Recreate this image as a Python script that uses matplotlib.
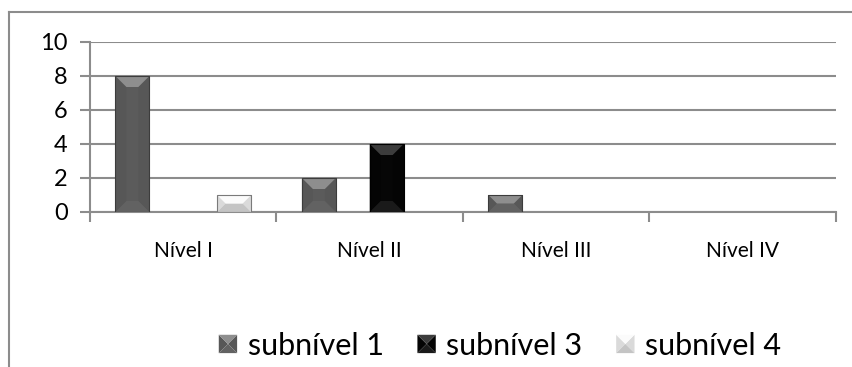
import numpy as np
import matplotlib.pyplot as plt
from matplotlib.patches import Polygon
from matplotlib.lines import Line2D
from matplotlib.legend_handler import HandlerBase

plt.rcParams['font.family'] = ['Lato', 'DejaVu Sans']

niveis = ['Nível I', 'Nível II', 'Nível III', 'Nível IV']
series = ['subnível 1', 'subnível 3', 'subnível 4']
# subnível 2 keeps its slot in each group but has no bars
slots = [0, 2, 3]
n_slots = 4
sub1 = [8, 2, 1, 0]
sub3 = [0, 4, 0, 0]
sub4 = [1, 0, 0, 0]
valores = [sub1, sub3, sub4]

# face, top bevel, side bevel, bottom bevel, edge
cores = [
    ('#5b5b5b', '#8e8e8e', '#575757', '#626262', '#3c3c3c'),
    ('#060606', '#3c3c3c', '#040404', '#1a1a1a', '#000000'),
    ('#ececec', '#fbfbfb', '#dadada', '#c4c4c4', '#7a7a7a'),
]

GRID = '#8c8c8c'
BEVEL_PX = 11


def bevel_polys(x0, y0, w, h, bx, by):
    """faces of a chamfered box: top, bottom, left, right"""
    x1, y1 = x0 + w, y0 + h
    by_ = min(by, h / 2)
    bx_ = min(bx * by_ / by, w / 2)
    top = [(x0, y1), (x1, y1), (x1 - bx_, y1 - by_), (x0 + bx_, y1 - by_)]
    bot = [(x0, y0), (x1, y0), (x1 - bx_, y0 + by_), (x0 + bx_, y0 + by_)]
    left = [(x0, y0), (x0, y1), (x0 + bx_, y1 - by_), (x0 + bx_, y0 + by_)]
    right = [(x1, y0), (x1, y1), (x1 - bx_, y1 - by_), (x1 - bx_, y0 + by_)]
    return top, bot, left, right


class HandlerBevel(HandlerBase):
    def __init__(self, cor):
        super().__init__()
        self.cor = cor

    def create_artists(self, legend, orig_handle, xdescent, ydescent,
                       width, height, fontsize, trans):
        face, topc, sidec, botc, edge = self.cor
        s = min(width, height)
        x0 = -xdescent + (width - s) / 2
        y0 = -ydescent + (height - s) / 2
        top, bot, left, right = bevel_polys(x0, y0, s, s, s / 2, s / 2)
        arts = []
        for pts, c in [(left, sidec), (right, sidec), (bot, botc), (top, topc)]:
            p = Polygon(pts, closed=True, facecolor=c, edgecolor='none',
                        transform=trans)
            arts.append(p)
        return arts


fig = plt.figure(figsize=(8.53, 3.67), dpi=100)
W, H = 853, 367
left_px, right_px, top_px, bot_px = 90, 836, 42, 212
ax = fig.add_axes([left_px / W, 1 - bot_px / H,
                   (right_px - left_px) / W, (bot_px - top_px) / H])

x = np.arange(len(niveis))
largura = 1 / (n_slots + 1.5)
ax.set_xlim(-0.5, len(niveis) - 0.5)
ax.set_ylim(0, 10)

# data units per pixel, for the bevel size
bx = BEVEL_PX * (len(niveis)) / (right_px - left_px)
by = BEVEL_PX * 10 / (bot_px - top_px)

handles = []
for vals, slot, cor, nome in zip(valores, slots, cores, series):
    pos = x + (slot - (n_slots - 1) / 2) * largura
    barras = ax.bar(pos, vals, largura, color=cor[0], edgecolor=cor[4],
                    linewidth=0.6, zorder=3, label=nome)
    handles.append(barras)
    for r in barras.patches:
        h = r.get_height()
        if h <= 0:
            continue
        top, bot, lft, rgt = bevel_polys(r.get_x(), r.get_y(), r.get_width(),
                                         h, bx, by)
        for pts, c in [(lft, cor[2]), (rgt, cor[2]), (bot, cor[3]), (top, cor[1])]:
            ax.add_patch(Polygon(pts, closed=True, facecolor=c,
                                 edgecolor='none', zorder=4))
        ax.add_patch(plt.Rectangle((r.get_x(), r.get_y()), r.get_width(), h,
                                   fill=False, edgecolor=cor[4], linewidth=0.8,
                                   zorder=5))

# axes styling
ax.set_yticks(np.arange(0, 11, 2))
ax.grid(axis='y', color=GRID, linewidth=1.5, zorder=0)
for s in ['top', 'right']:
    ax.spines[s].set_visible(False)
for s in ['left', 'bottom']:
    ax.spines[s].set_color(GRID)
    ax.spines[s].set_linewidth(1.5)
ax.set_xticks(np.arange(len(niveis) + 1) - 0.5)
ax.set_xticklabels([])
ax.set_xticks(x, minor=True)
ax.set_xticklabels(niveis, minor=True, fontsize=15)
ax.tick_params(axis='x', which='major', length=7, width=1.5, color=GRID)
ax.tick_params(axis='x', which='minor', length=0, pad=21)
ax.tick_params(axis='y', length=7, width=1.5, color=GRID, labelsize=17, pad=9)

leg = fig.legend(handles, series, loc='center', bbox_to_anchor=(500 / W, 0.058),
                 ncol=3, frameon=False, fontsize=22, handlelength=0.6,
                 handleheight=0.6, handletextpad=0.35, columnspacing=1.1,
                 handler_map={h: HandlerBevel(c) for h, c in zip(handles, cores)})

# outer chart border (only left and top fall inside the image)
fig.add_artist(Line2D([9 / W, 9 / W], [0, 1 - 12 / H], color=GRID, linewidth=1.5))
fig.add_artist(Line2D([9 / W, 1], [1 - 12 / H, 1 - 12 / H], color=GRID, linewidth=1.5))

fig.savefig('out.png', dpi=100)
